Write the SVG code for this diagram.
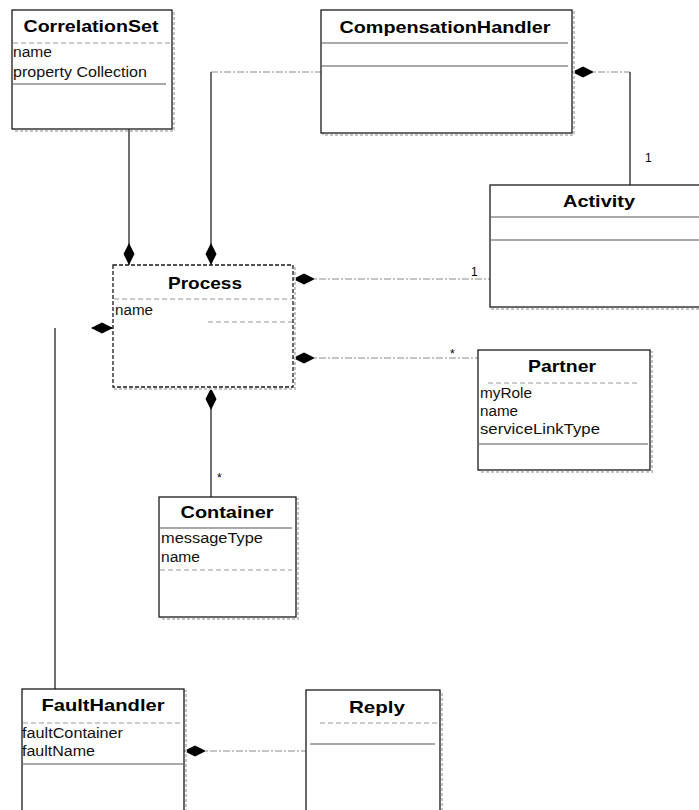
<svg xmlns="http://www.w3.org/2000/svg" width="699" height="810" viewBox="0 0 699 810">
  <style>
    .box { fill: #ffffff; stroke: #1a1a1a; stroke-width: 1.3; }
    .shadow { fill: none; stroke: #c4c4c4; stroke-width: 2; stroke-dasharray: 3 2; }
    .sep { stroke: #555555; stroke-width: 1; }
    .sep-light { stroke: #999999; stroke-width: 1; stroke-dasharray: 5 3; }
    .title { font-family: "Liberation Sans", Arial, sans-serif; font-weight: bold; font-size: 17px; fill: #000000; text-anchor: middle; }
    .attr { font-family: "Liberation Sans", Arial, sans-serif; font-size: 14px; fill: #111111; }
    .mult { font-family: "Liberation Sans", Arial, sans-serif; font-size: 12px; fill: #000000; }
    .link { fill: none; stroke: #111111; stroke-width: 1.2; }
    .link-light { fill: none; stroke: #8a8a8a; stroke-width: 1.2; stroke-dasharray: 7 2 2 2; }
  </style>
  <defs>
    <!-- filled composition diamond, tip at the owning class -->
    <marker id="diamond" viewBox="0 -6 22 12" refX="0" refY="0" markerWidth="22" markerHeight="12" markerUnits="userSpaceOnUse" orient="auto">
      <path d="M0,0 L11,-5.5 L22,0 L11,5.5 Z" fill="#000000"/>
    </marker>
  </defs>

  <rect width="699" height="810" fill="#ffffff"/>

  <!-- connectors -->
  <g id="connectors">
    <!-- CorrelationSet to Process -->
    <path class="link" d="M129,265 L129,129" marker-start="url(#diamond)"/>
    <!-- CompensationHandler to Process -->
    <path class="link" d="M211,265 L211,72" marker-start="url(#diamond)"/>
    <path class="link-light" d="M211,72 L321,72"/>
    <!-- CompensationHandler to Activity -->
    <path class="link-light" d="M572,72 L630,72" marker-start="url(#diamond)"/>
    <path class="link" d="M630,72 L630,185"/>
    <text class="mult" x="645" y="162">1</text>
    <!-- Process to Activity -->
    <path class="link-light" d="M293,279 L490,279" marker-start="url(#diamond)"/>
    <text class="mult" x="471" y="276">1</text>
    <!-- Process to Partner -->
    <path class="link-light" d="M293,358 L478,358" marker-start="url(#diamond)"/>
    <text class="mult" x="450" y="358">*</text>
    <!-- Process to Container -->
    <path class="link" d="M211,388 L211,497" marker-start="url(#diamond)"/>
    <text class="mult" x="217" y="482">*</text>
    <!-- Process to FaultHandler -->
    <path class="link" d="M113,328 L92,328" marker-start="url(#diamond)"/>
    <path class="link" d="M55,328 L55,689"/>
    <!-- FaultHandler to Reply -->
    <path class="link-light" d="M184,751 L306,751" marker-start="url(#diamond)"/>
  </g>

  <!-- CorrelationSet -->
  <g id="CorrelationSet">
    <rect class="shadow" x="14" y="12" width="160" height="119"/>
    <rect class="box" x="12" y="10" width="160" height="119"/>
    <text class="title" x="91" y="32" textLength="135" lengthAdjust="spacingAndGlyphs">CorrelationSet</text>
    <line class="sep-light" x1="13" y1="43" x2="171" y2="43"/>
    <text class="attr" x="13" y="57" textLength="39" lengthAdjust="spacingAndGlyphs">name</text>
    <text class="attr" x="13" y="77" textLength="134" lengthAdjust="spacingAndGlyphs">property Collection</text>
    <line class="sep" x1="13" y1="84" x2="166" y2="84"/>
  </g>

  <!-- CompensationHandler -->
  <g id="CompensationHandler">
    <rect class="shadow" x="323" y="12" width="251" height="123"/>
    <rect class="box" x="321" y="10" width="251" height="123"/>
    <text class="title" x="445" y="33" textLength="211" lengthAdjust="spacingAndGlyphs">CompensationHandler</text>
    <line class="sep" x1="322" y1="43" x2="568" y2="43"/>
    <line class="sep" x1="322" y1="66" x2="568" y2="66" stroke="#aaaaaa"/>
  </g>

  <!-- Activity -->
  <g id="Activity">
    <rect class="shadow" x="492" y="187" width="215" height="122"/>
    <rect class="box" x="490" y="185" width="215" height="122"/>
    <text class="title" x="599" y="207" textLength="72" lengthAdjust="spacingAndGlyphs">Activity</text>
    <line class="sep" x1="491" y1="217" x2="699" y2="217"/>
    <line class="sep" x1="491" y1="240" x2="699" y2="240"/>
  </g>

  <!-- Process -->
  <g id="Process">
    <rect class="shadow" x="115" y="267" width="180" height="122"/>
    <rect class="box" x="113" y="265" width="180" height="122" stroke="#777777" stroke-dasharray="4 2"/>
    <text class="title" x="205" y="289" textLength="74" lengthAdjust="spacingAndGlyphs">Process</text>
    <line class="sep-light" x1="114" y1="299" x2="292" y2="299"/>
    <text class="attr" x="115" y="315" textLength="38" lengthAdjust="spacingAndGlyphs">name</text>
    <line class="sep-light" x1="208" y1="322" x2="292" y2="322"/>
  </g>

  <!-- Partner -->
  <g id="Partner">
    <rect class="shadow" x="480" y="352" width="172" height="120"/>
    <rect class="box" x="478" y="350" width="172" height="120"/>
    <text class="title" x="562" y="372" textLength="68" lengthAdjust="spacingAndGlyphs">Partner</text>
    <line class="sep-light" x1="488" y1="383" x2="639" y2="383"/>
    <text class="attr" x="480" y="398" textLength="52" lengthAdjust="spacingAndGlyphs">myRole</text>
    <text class="attr" x="480" y="416" textLength="38" lengthAdjust="spacingAndGlyphs">name</text>
    <text class="attr" x="480" y="434" textLength="120" lengthAdjust="spacingAndGlyphs">serviceLinkType</text>
    <line class="sep" x1="479" y1="444" x2="648" y2="444"/>
  </g>

  <!-- Container -->
  <g id="Container">
    <rect class="shadow" x="161" y="499" width="137" height="120"/>
    <rect class="box" x="159" y="497" width="137" height="120"/>
    <text class="title" x="227" y="518" textLength="93" lengthAdjust="spacingAndGlyphs">Container</text>
    <line class="sep" x1="160" y1="528" x2="292" y2="528"/>
    <text class="attr" x="161" y="543" textLength="102" lengthAdjust="spacingAndGlyphs">messageType</text>
    <text class="attr" x="161" y="562" textLength="39" lengthAdjust="spacingAndGlyphs">name</text>
    <line class="sep-light" x1="160" y1="570" x2="292" y2="570"/>
  </g>

  <!-- FaultHandler -->
  <g id="FaultHandler">
    <rect class="shadow" x="24" y="691" width="162" height="130"/>
    <rect class="box" x="22" y="689" width="162" height="130"/>
    <text class="title" x="103" y="711" textLength="123" lengthAdjust="spacingAndGlyphs">FaultHandler</text>
    <line class="sep-light" x1="23" y1="723" x2="183" y2="723"/>
    <text class="attr" x="22" y="738" textLength="101" lengthAdjust="spacingAndGlyphs">faultContainer</text>
    <text class="attr" x="22" y="756" textLength="73" lengthAdjust="spacingAndGlyphs">faultName</text>
    <line class="sep" x1="23" y1="764" x2="183" y2="764"/>
  </g>

  <!-- Reply -->
  <g id="Reply">
    <rect class="shadow" x="308" y="692" width="134" height="130"/>
    <rect class="box" x="306" y="690" width="134" height="130"/>
    <text class="title" x="377" y="713" textLength="56" lengthAdjust="spacingAndGlyphs">Reply</text>
    <line class="sep-light" x1="320" y1="723" x2="439" y2="723" stroke-dasharray="1 45"/>
    <line class="sep" x1="310" y1="744" x2="435" y2="744" stroke="#999999"/>
  </g>
</svg>
